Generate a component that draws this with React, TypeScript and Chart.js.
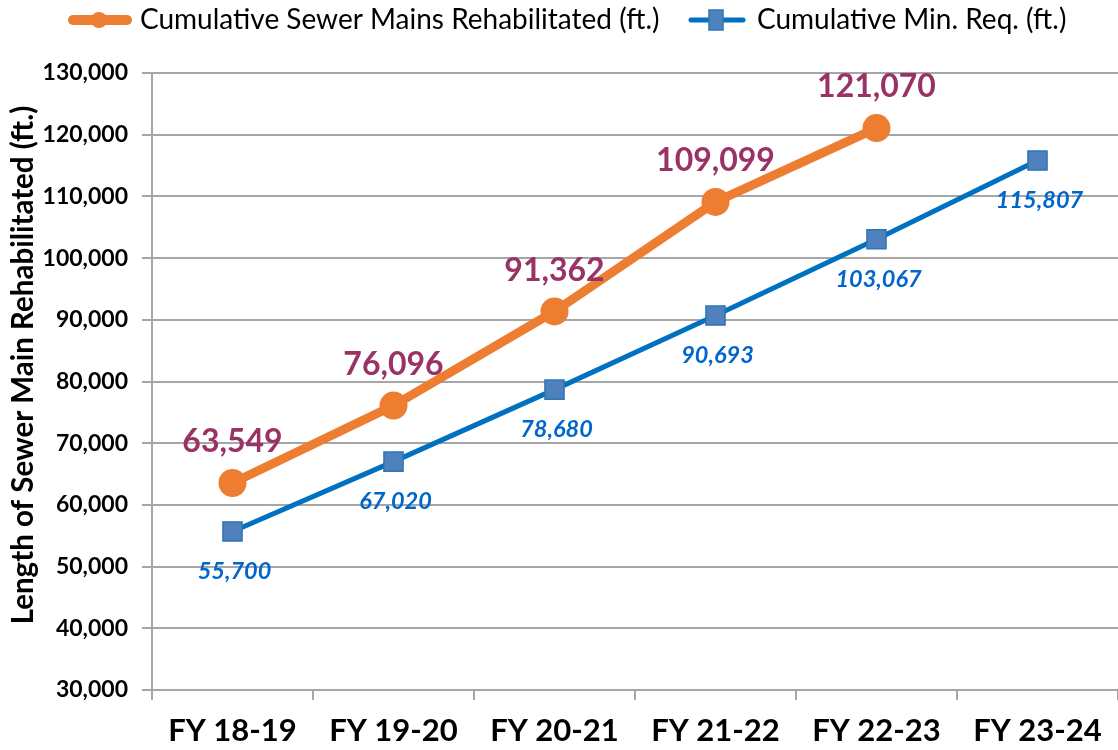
import React, { useEffect, useRef } from "react";
import { Chart, registerables } from "chart.js";

Chart.register(...registerables);

const categories = ["FY 18-19", "FY 19-20", "FY 20-21", "FY 21-22", "FY 22-23", "FY 23-24"];
const rehabilitated: (number | null)[] = [63549, 76096, 91362, 109099, 121070, null];
const minRequired = [55700, 67020, 78680, 90693, 103067, 115807];
const seriesNames = ["Cumulative Sewer Mains Rehabilitated (ft.)", "Cumulative Min. Req. (ft.)"];
const yTitle = "Length of Sewer Main Rehabilitated (ft.)";

const ORANGE = "#ED7D31";
const BLUE_LINE = "#0070C0";
const BLUE_FILL = "#4F81BD";
const BLUE_BORDER = "#2E75B6";
const LABEL_PURPLE = "#993366";
const LABEL_BLUE = "#0066CC";
const GRID = "#A6A6A6";
const FONT = "Lato, 'Open Sans', sans-serif";

const fmt = (v: number) => v.toLocaleString("en-US");

const customPlugin = {
  id: "custom",
  afterDatasetsDraw(chart: any) {
    const ctx = chart.ctx;
    ctx.save();
    ctx.textAlign = "center";
    ctx.textBaseline = "middle";
    const m0 = chart.getDatasetMeta(0);
    ctx.font = `bold 32px ${FONT}`;
    ctx.fillStyle = LABEL_PURPLE;
    m0.data.forEach((p: any, i: number) => {
      const v = rehabilitated[i];
      if (v == null) return;
      ctx.fillText(fmt(v), p.x, p.y - 41);
    });
    const m1 = chart.getDatasetMeta(1);
    ctx.font = `italic bold 23.5px ${FONT}`;
    ctx.fillStyle = LABEL_BLUE;
    m1.data.forEach((p: any, i: number) => {
      ctx.fillText(fmt(minRequired[i]), p.x + 2, p.y + 40);
    });
    ctx.restore();
  },
  afterDraw(chart: any) {
    const ctx = chart.ctx;
    ctx.save();
    // y-axis title
    ctx.translate(23, 365);
    ctx.rotate(-Math.PI / 2);
    ctx.font = `bold 29.5px ${FONT}`;
    ctx.fillStyle = "#000";
    ctx.textAlign = "center";
    ctx.textBaseline = "middle";
    ctx.fillText(yTitle, 0, 0);
    ctx.restore();

    // legend
    ctx.save();
    const ly = 20;
    ctx.lineCap = "round";
    ctx.strokeStyle = ORANGE;
    ctx.lineWidth = 10;
    ctx.beginPath();
    ctx.moveTo(73, ly);
    ctx.lineTo(127, ly);
    ctx.stroke();
    ctx.fillStyle = ORANGE;
    ctx.beginPath();
    ctx.arc(99, ly, 8, 0, Math.PI * 2);
    ctx.fill();
    ctx.font = `28px ${FONT}`;
    ctx.fillStyle = "#000";
    ctx.textAlign = "left";
    ctx.textBaseline = "middle";
    ctx.fillText(seriesNames[0], 140, ly);

    ctx.lineCap = "round";
    ctx.strokeStyle = BLUE_LINE;
    ctx.lineWidth = 5;
    ctx.beginPath();
    ctx.moveTo(691, ly);
    ctx.lineTo(743, ly);
    ctx.stroke();
    ctx.fillStyle = BLUE_FILL;
    ctx.strokeStyle = BLUE_BORDER;
    ctx.lineWidth = 1.5;
    ctx.fillRect(709, ly - 10, 14, 20);
    ctx.strokeRect(709, ly - 10, 14, 20);
    ctx.fillStyle = "#000";
    ctx.fillText(seriesNames[1], 757, ly);
    ctx.restore();
  },
};

export default function App() {
  const ref = useRef<HTMLCanvasElement>(null);
  useEffect(() => {
    document.body.style.margin = "0";
    const chart = new Chart(ref.current!, {
      type: "line",
      data: {
        labels: categories,
        datasets: [
          {
            label: seriesNames[0],
            data: rehabilitated,
            borderColor: ORANGE,
            backgroundColor: ORANGE,
            borderWidth: 9,
            pointRadius: 14,
            pointHoverRadius: 14,
            pointBackgroundColor: ORANGE,
            pointBorderColor: ORANGE,
            pointBorderWidth: 0,
            tension: 0,
            spanGaps: false,
          },
          {
            label: seriesNames[1],
            data: minRequired,
            borderColor: BLUE_LINE,
            backgroundColor: BLUE_FILL,
            borderWidth: 5,
            pointStyle: "rect",
            pointRadius: 13.5,
            pointHoverRadius: 13.5,
            pointBackgroundColor: BLUE_FILL,
            pointBorderColor: BLUE_BORDER,
            pointBorderWidth: 1.5,
            tension: 0,
          },
        ],
      },
      options: {
        animation: false,
        responsive: false,
        maintainAspectRatio: false,
        layout: { autoPadding: false, padding: { top: 73, right: 0, bottom: 0, left: 0 } },
        plugins: {
          legend: { display: false },
          tooltip: { enabled: false },
        },
        scales: {
          x: {
            type: "category",
            offset: true,
            grid: {
              display: true,
              offset: true,
              drawOnChartArea: false,
              drawTicks: true,
              tickLength: 10,
              color: GRID,
              lineWidth: 2,
            },
            border: { display: true, color: GRID, width: 2 },
            ticks: {
              color: "#000",
              font: { family: FONT, size: 31, weight: "bold" },
              padding: 12,
              maxRotation: 0,
            },
            afterFit: (s: any) => {
              s.height = 60;
              s.paddingLeft = 0;
              s.paddingRight = 0;
            },
          },
          y: {
            min: 30000,
            max: 130000,
            ticks: {
              stepSize: 10000,
              color: "#000",
              font: { family: FONT, size: 23, weight: "bold" },
              padding: 14,
              callback: (v: any) => fmt(Number(v)),
            },
            grid: {
              color: GRID,
              lineWidth: 2,
              drawTicks: true,
              tickLength: 10,
            },
            border: { display: true, color: GRID, width: 2 },
            afterFit: (s: any) => {
              s.width = 152;
            },
          },
        },
      },
      plugins: [customPlugin],
    });
    return () => chart.destroy();
  }, []);
  return (
    <div style={{ position: "absolute", left: 0, top: 0, width: 1118, height: 750 }}>
      <canvas ref={ref} width={1118} height={750} style={{ display: "block" }} />
    </div>
  );
}
